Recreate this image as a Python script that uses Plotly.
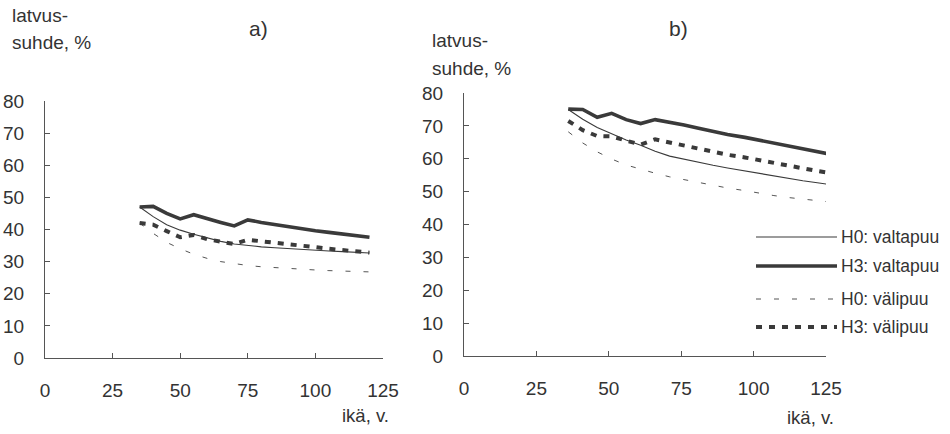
import plotly.graph_objects as go

# ---------------- data ----------------
age_a = [35, 40, 45, 50, 55, 60, 65, 70, 75, 80, 85, 90, 95, 100, 105, 110, 115, 120]
a_h0_valta = [47.0, 44.0, 41.5, 39.8, 38.5, 37.3, 36.3, 35.5, 35.0, 34.6, 34.3, 34.0, 33.7, 33.5, 33.3, 33.1, 32.9, 32.7]
a_h3_valta = [47.0, 47.2, 45.0, 43.3, 44.6, 43.3, 42.2, 41.1, 43.0, 42.2, 41.5, 40.8, 40.2, 39.6, 39.1, 38.6, 38.1, 37.6]
a_h0_vali = [42.0, 38.8, 36.0, 34.0, 32.3, 31.0, 30.0, 29.3, 28.8, 28.4, 28.1, 27.9, 27.6, 27.4, 27.2, 27.1, 26.9, 26.8]
a_h3_vali = [42.0, 41.5, 39.5, 37.6, 38.3, 37.0, 36.2, 35.5, 36.8, 36.4, 35.9, 35.4, 34.9, 34.5, 34.0, 33.6, 33.2, 32.8]

age_b = [36, 41, 46, 51, 56, 61, 66, 71, 76, 81, 86, 91, 97, 102, 107, 112, 117, 122, 127]
b_h0_valta = [75.0, 72.0, 69.5, 67.5, 65.7, 64.1, 62.3, 60.8, 59.8, 58.9, 58.0, 57.2, 56.3, 55.5, 54.7, 54.0, 53.3, 52.7, 52.1]
b_h3_valta = [75.1, 75.0, 72.6, 73.8, 71.9, 70.7, 71.9, 71.2, 70.3, 69.3, 68.3, 67.4, 66.5, 65.6, 64.7, 63.8, 63.0, 62.1, 61.3]
b_h0_vali = [68.2, 64.8, 62.1, 59.9, 58.1, 56.8, 55.6, 54.5, 53.6, 52.7, 51.9, 51.1, 50.3, 49.5, 48.8, 48.2, 47.7, 47.2, 46.8]
b_h3_vali = [71.5, 68.7, 66.9, 66.8, 65.5, 64.3, 65.9, 65.0, 63.8, 63.0, 62.1, 61.2, 60.4, 59.5, 58.7, 57.9, 57.1, 56.3, 55.6]

x_ticks = [0, 25, 50, 75, 100, 125]
y_ticks = [0, 10, 20, 30, 40, 50, 60, 70, 80]
series_names = ["H0: valtapuu", "H3: valtapuu", "H0: välipuu", "H3: välipuu"]

# ---------------- styles ----------------
LC = "#3a3a3a"
TC = "#333333"
FONT = "Liberation Sans, Arial, sans-serif"
styles = [
    dict(color=LC, width=1.1, dash="solid"),
    dict(color=LC, width=3.6, dash="solid"),
    dict(color="#555555", width=1.0, dash="5px,13px"),
    dict(color=LC, width=4.0, dash="6px,7px"),
]

fig = go.Figure()
for ys, st in zip([a_h0_valta, a_h3_valta, a_h0_vali, a_h3_vali], styles):
    fig.add_trace(go.Scatter(x=age_a, y=ys, mode="lines", line=st,
                             xaxis="x", yaxis="y", showlegend=False, hoverinfo="skip"))
for ys, st, nm in zip([b_h0_valta, b_h3_valta, b_h0_vali, b_h3_vali], styles, series_names):
    fig.add_trace(go.Scatter(x=age_b, y=ys, mode="lines", line=st, name=nm,
                             xaxis="x2", yaxis="y2", showlegend=False, hoverinfo="skip"))

W, H = 950, 434

def xd(p0, p1):
    return [p0 / W, p1 / W]

def yd(p_bottom, p_top):
    return [(H - p_bottom) / H, (H - p_top) / H]

axis_common = dict(
    showgrid=False, zeroline=False, showline=True, linecolor="#555", linewidth=1,
    ticks="inside", ticklen=5, tickcolor="#555", tickwidth=1, automargin=False,
    tickfont=dict(family=FONT, size=19, color=TC),
)

fig.update_layout(
    template="none",
    width=W, height=H,
    margin=dict(l=0, r=0, t=0, b=0, pad=0),
    paper_bgcolor="white", plot_bgcolor="white",
    font=dict(family=FONT, color=TC),
    xaxis=dict(domain=xd(45, 383), anchor="y", range=[0, 125], tickvals=x_ticks,
               ticklabelstandoff=15, **axis_common),
    yaxis=dict(domain=yd(358, 101), anchor="x", range=[0, 80], tickvals=y_ticks,
               ticklabelstandoff=16, **axis_common),
    xaxis2=dict(domain=xd(464, 826), anchor="y2", range=[0, 125], tickvals=x_ticks,
                ticklabelstandoff=15, **axis_common),
    yaxis2=dict(domain=yd(356, 93), anchor="x2", range=[0, 80], tickvals=y_ticks,
                ticklabelstandoff=16, **axis_common),
)

def ann(text, x, y, size=17, xanchor="left", yanchor="middle"):
    fig.add_annotation(text=text, x=x / W, y=(H - y) / H, xref="paper", yref="paper",
                       showarrow=False, xanchor=xanchor, yanchor=yanchor,
                       font=dict(family=FONT, size=size, color=TC))

# titles and axis labels
ann("latvus-", 10, 15, size=19)
ann("suhde, %", 10, 42, size=19)
ann("a)", 258, 28, size=21, xanchor="center")
ann("latvus-", 430, 41, size=19)
ann("suhde, %", 430, 68, size=19)
ann("b)", 678, 28, size=21, xanchor="center")
ann("ikä, v.", 365, 415, size=18.5, xanchor="center")
ann("ikä, v.", 810, 417, size=18.5, xanchor="center")

# legend (keys + labels)
leg_y = [237, 266, 299, 327]
for nm, st, ly in zip(series_names, styles, leg_y):
    fig.add_shape(type="line", xref="paper", yref="paper",
                  x0=756 / W, x1=837 / W, y0=(H - ly) / H, y1=(H - ly) / H,
                  line=st)
    ann(nm, 839, ly, size=17.5)

fig.write_html("out.html", config={"displayModeBar": False},
               post_script="document.body.style.margin='0';document.body.style.overflow='hidden';")
